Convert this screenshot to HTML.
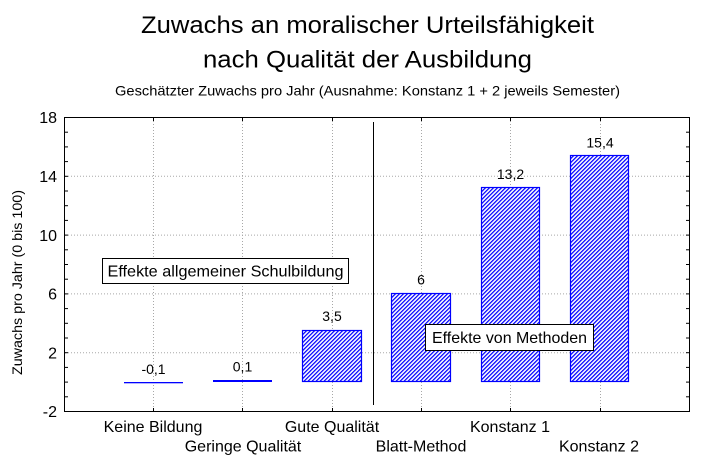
<!DOCTYPE html>
<html>
<head>
<meta charset="utf-8">
<style>
  html, body { margin:0; padding:0; background:#fff; }
  body { width:711px; height:468px; overflow:hidden; }
  svg { display:block; }
  text { font-family: "Liberation Sans", Arial, sans-serif; fill:#000; }
</style>
</head>
<body>
<svg width="711" height="468" viewBox="0 0 711 468" xmlns="http://www.w3.org/2000/svg">
  <defs>
    <pattern id="hatch" patternUnits="userSpaceOnUse" width="2.83" height="2.83" patternTransform="rotate(45)">
      <rect x="0" y="0" width="2.83" height="2.83" fill="#fff"/>
      <rect x="0" y="0" width="1.25" height="2.83" fill="#0000ff"/>
    </pattern>
  </defs>
  <rect x="0" y="0" width="711" height="468" fill="#fff"/>

  <!-- Titles -->
  <text x="367.5" y="33" font-size="24" text-anchor="middle" textLength="453" lengthAdjust="spacingAndGlyphs">Zuwachs an moralischer Urteilsfähigkeit</text>
  <text x="367.5" y="67.5" font-size="24" text-anchor="middle" textLength="329" lengthAdjust="spacingAndGlyphs">nach Qualität der Ausbildung</text>
  <text x="367.5" y="95.5" font-size="14" text-anchor="middle" textLength="505" lengthAdjust="spacingAndGlyphs">Geschätzter Zuwachs pro Jahr (Ausnahme: Konstanz 1 + 2 jeweils Semester)</text>

  <!-- Gridlines -->
  <g stroke="#a8a8a8" stroke-width="1" stroke-dasharray="1,2">
    <line x1="65" y1="176.3" x2="689" y2="176.3"/>
    <line x1="65" y1="235.1" x2="689" y2="235.1"/>
    <line x1="65" y1="293.9" x2="689" y2="293.9"/>
    <line x1="65" y1="352.7" x2="689" y2="352.7"/>
    <line x1="153.5" y1="118" x2="153.5" y2="411"/>
    <line x1="242.5" y1="118" x2="242.5" y2="411"/>
    <line x1="332.5" y1="118" x2="332.5" y2="411"/>
    <line x1="421.5" y1="118" x2="421.5" y2="411"/>
    <line x1="510.5" y1="118" x2="510.5" y2="411"/>
    <line x1="600.5" y1="118" x2="600.5" y2="411"/>
  </g>

  <!-- Frame -->
  <rect x="64.5" y="117.5" width="625" height="294" fill="none" stroke="#000" stroke-width="1"/>

  <!-- Y ticks (left & right, inside) -->
  <g stroke="#000" stroke-width="1">
    <line x1="65" y1="132.2" x2="68" y2="132.2"/><line x1="65" y1="146.9" x2="68" y2="146.9"/><line x1="65" y1="161.6" x2="68" y2="161.6"/><line x1="65" y1="176.3" x2="68" y2="176.3"/>
    <line x1="65" y1="191.0" x2="68" y2="191.0"/><line x1="65" y1="205.7" x2="68" y2="205.7"/><line x1="65" y1="220.4" x2="68" y2="220.4"/><line x1="65" y1="235.1" x2="68" y2="235.1"/>
    <line x1="65" y1="249.8" x2="68" y2="249.8"/><line x1="65" y1="264.5" x2="68" y2="264.5"/><line x1="65" y1="279.2" x2="68" y2="279.2"/><line x1="65" y1="293.9" x2="68" y2="293.9"/>
    <line x1="65" y1="308.6" x2="68" y2="308.6"/><line x1="65" y1="323.3" x2="68" y2="323.3"/><line x1="65" y1="338.0" x2="68" y2="338.0"/><line x1="65" y1="352.7" x2="68" y2="352.7"/>
    <line x1="65" y1="367.4" x2="68" y2="367.4"/><line x1="65" y1="382.1" x2="68" y2="382.1"/><line x1="65" y1="396.8" x2="68" y2="396.8"/>

    <line x1="686" y1="132.2" x2="689" y2="132.2"/><line x1="686" y1="146.9" x2="689" y2="146.9"/><line x1="686" y1="161.6" x2="689" y2="161.6"/><line x1="686" y1="176.3" x2="689" y2="176.3"/>
    <line x1="686" y1="191.0" x2="689" y2="191.0"/><line x1="686" y1="205.7" x2="689" y2="205.7"/><line x1="686" y1="220.4" x2="689" y2="220.4"/><line x1="686" y1="235.1" x2="689" y2="235.1"/>
    <line x1="686" y1="249.8" x2="689" y2="249.8"/><line x1="686" y1="264.5" x2="689" y2="264.5"/><line x1="686" y1="279.2" x2="689" y2="279.2"/><line x1="686" y1="293.9" x2="689" y2="293.9"/>
    <line x1="686" y1="308.6" x2="689" y2="308.6"/><line x1="686" y1="323.3" x2="689" y2="323.3"/><line x1="686" y1="338.0" x2="689" y2="338.0"/><line x1="686" y1="352.7" x2="689" y2="352.7"/>
    <line x1="686" y1="367.4" x2="689" y2="367.4"/><line x1="686" y1="382.1" x2="689" y2="382.1"/><line x1="686" y1="396.8" x2="689" y2="396.8"/>

    <!-- X ticks bottom & top -->
    <line x1="153.5" y1="408" x2="153.5" y2="411"/><line x1="242.5" y1="408" x2="242.5" y2="411"/><line x1="332.5" y1="408" x2="332.5" y2="411"/>
    <line x1="421.5" y1="408" x2="421.5" y2="411"/><line x1="510.5" y1="408" x2="510.5" y2="411"/><line x1="600.5" y1="408" x2="600.5" y2="411"/>
    <line x1="153.5" y1="118" x2="153.5" y2="121"/><line x1="242.5" y1="118" x2="242.5" y2="121"/><line x1="332.5" y1="118" x2="332.5" y2="121"/>
    <line x1="421.5" y1="118" x2="421.5" y2="121"/><line x1="510.5" y1="118" x2="510.5" y2="121"/><line x1="600.5" y1="118" x2="600.5" y2="121"/>
  </g>

  <!-- Y tick labels -->
  <g font-size="16" text-anchor="end">
    <text x="57" y="123">18</text>
    <text x="57" y="182">14</text>
    <text x="57" y="241">10</text>
    <text x="57" y="299.5">6</text>
    <text x="57" y="358.5">2</text>
    <text x="57" y="417">-2</text>
  </g>

  <!-- Y axis title -->
  <text transform="translate(22,282.5) rotate(-90)" font-size="14" text-anchor="middle" textLength="185" lengthAdjust="spacingAndGlyphs">Zuwachs pro Jahr (0 bis 100)</text>

  <!-- Bars -->
  <rect x="124" y="382" width="59" height="1.3" fill="#0000ff"/>
  <rect x="213" y="380" width="59" height="2" fill="#0000ff"/>
  <rect x="302.5" y="330.5" width="59" height="51" fill="url(#hatch)" stroke="#0000ff" stroke-width="1.2"/>
  <rect x="391.5" y="293.5" width="59" height="88" fill="url(#hatch)" stroke="#0000ff" stroke-width="1.2"/>
  <rect x="481.5" y="187.5" width="58" height="194" fill="url(#hatch)" stroke="#0000ff" stroke-width="1.2"/>
  <rect x="570.5" y="155.5" width="58" height="226" fill="url(#hatch)" stroke="#0000ff" stroke-width="1.2"/>

  <!-- Separator line -->
  <line x1="373.5" y1="122" x2="373.5" y2="405" stroke="#000" stroke-width="1"/>

  <!-- Value labels -->
  <g font-size="14" text-anchor="middle">
    <text x="153.5" y="374">-0,1</text>
    <text x="242.5" y="371.5">0,1</text>
    <text x="332" y="321">3,5</text>
    <text x="421" y="284.5">6</text>
    <text x="510.5" y="179">13,2</text>
    <text x="600" y="147.5">15,4</text>
  </g>

  <!-- Annotation boxes -->
  <rect x="102.5" y="258.5" width="246" height="25" fill="#fff" stroke="#000" stroke-width="1"/>
  <text x="225.5" y="276.5" font-size="16" text-anchor="middle" textLength="236" lengthAdjust="spacingAndGlyphs">Effekte allgemeiner Schulbildung</text>
  <rect x="425.5" y="324.5" width="168" height="26" fill="#fff" stroke="#000" stroke-width="1"/>
  <text x="509.5" y="343" font-size="16" text-anchor="middle" textLength="155" lengthAdjust="spacingAndGlyphs">Effekte von Methoden</text>

  <!-- Category labels -->
  <g font-size="16" text-anchor="middle">
    <text x="153" y="432">Keine Bildung</text>
    <text x="243" y="451.5">Geringe Qualität</text>
    <text x="332" y="432">Gute Qualität</text>
    <text x="421" y="451.5">Blatt-Method</text>
    <text x="510" y="432">Konstanz 1</text>
    <text x="599" y="451.5">Konstanz 2</text>
  </g>
</svg>
</body>
</html>
